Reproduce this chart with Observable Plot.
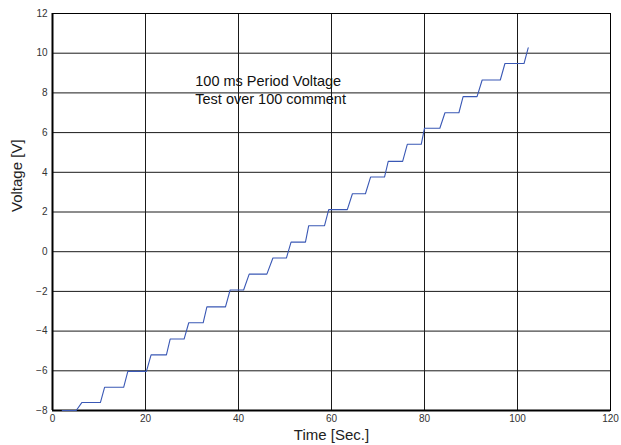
<!DOCTYPE html>
<html>
<head>
<meta charset="utf-8">
<script src="https://cdn.jsdelivr.net/npm/d3@7"></script>
<script src="https://cdn.jsdelivr.net/npm/@observablehq/plot@0.6"></script>
<style>
  body { margin: 0; background: #fff; }
  svg { font-family: "Liberation Sans", Arial, sans-serif; }
</style>
</head>
<body>
<div id="chart"></div>
<script>
// Step plateaus: start time, end time, voltage
const stepStart = [2.1, 6.3, 11.2, 16.2, 21.2, 25.3, 29.3, 33.2, 38.2, 42.3, 47.4, 51.3, 55.1, 59.4, 64.5, 68.4, 72.2, 76.3, 80.0, 84.4, 88.3, 92.4, 97.3];
const stepEnd   = [5.1, 10.3, 15.3, 20.2, 24.5, 28.3, 32.4, 37.2, 41.1, 46.1, 50.3, 54.4, 58.5, 63.4, 67.3, 71.4, 75.3, 79.3, 83.3, 87.4, 91.3, 96.3, 101.4];
const stepVolt  = [-8.0, -7.6, -6.83, -6.03, -5.2, -4.4, -3.58, -2.78, -1.93, -1.13, -0.32, 0.48, 1.31, 2.12, 2.92, 3.76, 4.55, 5.41, 6.22, 7.0, 7.81, 8.65, 9.48];
const endTime = 102.3;
const endVolt = 10.27;

const xTicks = [0, 20, 40, 60, 80, 100, 120];
const yTicks = [-8, -6, -4, -2, 0, 2, 4, 6, 8, 10, 12];
const xLabel = "Time [Sec.]";
const yLabel = "Voltage [V]";
const noteLines = ["100 ms Period Voltage", "Test over 100 comment"];
const noteX = [30.7, 30.7];
const noteY = [8.6, 7.67];

const pts = [];
stepVolt.forEach((v, i) => {
  pts.push({t: stepStart[i], v});
  pts.push({t: stepEnd[i], v});
});
pts.push({t: endTime, v: endVolt});

const notes = noteLines.map((s, i) => ({s, x: noteX[i], y: noteY[i]}));

const chart = Plot.plot({
  width: 621,
  height: 445,
  marginLeft: 52,
  marginRight: 11,
  marginTop: 13,
  marginBottom: 35,
  x: {domain: [0, 120]},
  y: {domain: [-8, 12]},
  style: {fontFamily: "'Liberation Sans', Arial, sans-serif", background: "#fff"},
  marks: [
    Plot.gridX(xTicks, {stroke: "#1a1a1a", strokeOpacity: 1, strokeWidth: 1}),
    Plot.gridY(yTicks, {stroke: "#1a1a1a", strokeOpacity: 1, strokeWidth: 1}),
    Plot.axisX({ticks: xTicks, tickSize: 0, tickPadding: 4, fontSize: 10, fill: "#333", label: null}),
    Plot.axisY({ticks: yTicks, tickSize: 0, tickPadding: 5, fontSize: 10, fill: "#333", label: null}),
    Plot.frame({stroke: "#000", strokeWidth: 1}),
    Plot.ruleX([0], {stroke: "#000", strokeWidth: 2}),
    Plot.ruleY([-8], {stroke: "#000", strokeWidth: 2}),
    Plot.line(pts, {x: "t", y: "v", stroke: "#3a58b5", strokeWidth: 1.1}),
    Plot.text(notes, {x: "x", y: "y", text: "s", textAnchor: "start", fontSize: 14.5, fill: "#111"}),
    Plot.text([xLabel], {frameAnchor: "bottom", dy: 29, fontSize: 15, fill: "#222"}),
    Plot.text([yLabel], {frameAnchor: "left", dx: -35, rotate: -90, fontSize: 15, fill: "#222"})
  ]
});
document.getElementById("chart").appendChild(chart);
</script>
</body>
</html>
